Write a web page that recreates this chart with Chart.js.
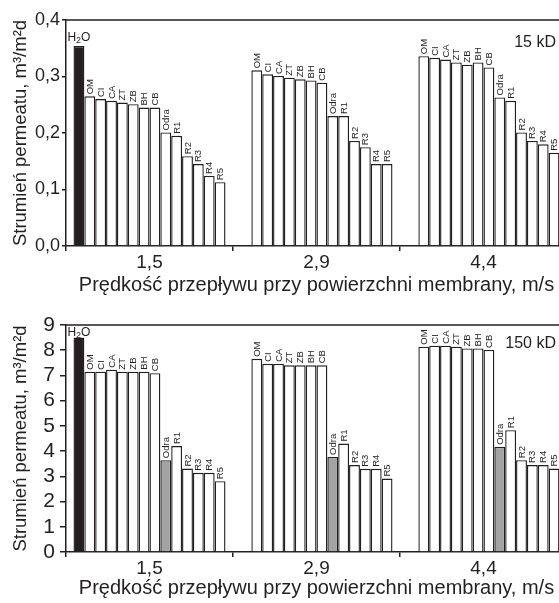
<!DOCTYPE html>
<html>
<head>
<meta charset="utf-8">
<script src="https://cdn.jsdelivr.net/npm/chart.js@4/dist/chart.umd.min.js"></script>
<style>
body { margin: 0; width: 559px; height: 603px; overflow: hidden; background: #fff; }
canvas { display: block; }
</style>
</head>
<body>
<canvas id="chart15" width="575" height="300"></canvas>
<canvas id="chart150" width="575" height="303"></canvas>
<script>
const groups = ['1,5', '2,9', '4,4'];
const series = ['H2O', 'OM', 'CI', 'CA', 'ZT', 'ZB', 'BH', 'CB', 'Odra', 'R1', 'R2', 'R3', 'R4', 'R5'];

// 15 kD membrane, m3/m2d (one row per series, one value per velocity)
const flux15 = [
    [0.354, null, null],
    [0.265, 0.311, 0.336],
    [0.260, 0.304, 0.333],
    [0.257, 0.301, 0.330],
    [0.254, 0.298, 0.325],
    [0.251, 0.295, 0.321],
    [0.245, 0.293, 0.325],
    [0.245, 0.289, 0.316],
    [0.201, 0.230, 0.263],
    [0.195, 0.230, 0.257],
    [0.159, 0.186, 0.201],
    [0.145, 0.175, 0.186],
    [0.124, 0.145, 0.180],
    [0.113, 0.145, 0.165]
];

// 150 kD membrane, m3/m2d
const flux150 = [
    [8.50, null, null],
    [7.15, 7.66, 8.14],
    [7.15, 7.46, 8.18],
    [7.23, 7.46, 8.18],
    [7.15, 7.40, 8.14],
    [7.15, 7.40, 8.07],
    [7.15, 7.40, 8.07],
    [7.09, 7.40, 8.01],
    [3.64, 3.77, 4.17],
    [4.20, 4.30, 4.83],
    [3.31, 3.45, 3.64],
    [3.14, 3.30, 3.45],
    [3.14, 3.30, 3.45],
    [2.81, 2.91, 3.31]
];

const yTicks15 = ['0,0', '0,1', '0,2', '0,3', '0,4'];
const yTicks150 = ['0', '1', '2', '3', '4', '5', '6', '7', '8', '9'];

const ink = '#231f20';
const font = '"Liberation Sans", Arial, sans-serif';

// labels over the bars, frame and membrane note
const barLabels = {
    id: 'barLabels',
    afterDatasetsDraw(chart, args, opts) {
        const ctx = chart.ctx;
        const a = chart.chartArea;
        ctx.save();
        ctx.fillStyle = ink;
        chart.data.datasets.forEach((ds, i) => {
            chart.getDatasetMeta(i).data.forEach((bar, j) => {
                if (ds.data[j] == null) return;
                if (ds.label === 'H2O') {
                    ctx.textBaseline = 'alphabetic';
                    ctx.textAlign = 'left';
                    ctx.font = '12px ' + font;
                    const wH = ctx.measureText('H').width, wO = ctx.measureText('O').width;
                    ctx.font = '9px ' + font;
                    const w2 = ctx.measureText('2').width;
                    let x = bar.x - (wH + w2 + wO) / 2;
                    const y = bar.y - opts.h2oGap;
                    ctx.font = '12px ' + font;
                    ctx.fillText('H', x, y);
                    ctx.font = '9px ' + font;
                    ctx.fillText('2', x + wH, y + 2);
                    ctx.font = '12px ' + font;
                    ctx.fillText('O', x + wH + w2, y);
                } else {
                    ctx.save();
                    ctx.translate(bar.x + 0.5, bar.y - 2);
                    ctx.rotate(-Math.PI / 2);
                    ctx.font = '9.5px ' + font;
                    ctx.textAlign = 'left';
                    ctx.textBaseline = 'middle';
                    ctx.fillText(ds.label, 0, 0);
                    ctx.restore();
                }
            });
        });
        ctx.strokeStyle = ink;
        ctx.lineWidth = 1.5;
        ctx.beginPath();
        ctx.moveTo(a.left, a.top);
        ctx.lineTo(a.right, a.top);
        ctx.lineTo(a.right, a.bottom);
        ctx.stroke();
        ctx.font = '16px ' + font;
        ctx.textAlign = 'right';
        ctx.textBaseline = 'alphabetic';
        ctx.fillText(opts.note, 556, a.top + opts.noteY);
        ctx.restore();
    }
};

function makeChart(id, rows, odraColor, yMax, yStep, yTicks, yFont, yTick, yPad, note, noteY, h2oGap, padTop, xHeight) {
    const datasets = series.map((name, i) => ({
        label: name,
        data: rows[i],
        backgroundColor: name === 'H2O' ? ink : (name === 'Odra' ? odraColor : '#ffffff'),
        borderColor: ink,
        borderWidth: 1.4,
        categoryPercentage: 0.91,
        barPercentage: 1.0
    }));

    return new Chart(document.getElementById(id), {
        type: 'bar',
        data: { labels: groups, datasets: datasets },
        options: {
            responsive: false,
            animation: false,
            layout: { padding: { top: padTop, right: 8, left: 0, bottom: 0 } },
            plugins: {
                legend: { display: false },
                tooltip: { enabled: false },
                barLabels: { note: note, noteY: noteY, h2oGap: h2oGap }
            },
            scales: {
                x: {
                    grid: { drawOnChartArea: false, drawTicks: true, tickLength: 5, color: ink, lineWidth: 1.5, offset: true },
                    border: { display: true, color: ink, width: 1.5 },
                    ticks: { color: ink, font: { family: font, size: 19 }, padding: 0 },
                    title: {
                        display: true,
                        text: 'Prędkość przepływu przy powierzchni membrany, m/s',
                        color: ink,
                        font: { family: font, size: 20 },
                        padding: { top: 0, bottom: 3 }
                    },
                    afterFit(s) {
                        s.height = xHeight;
                        s.paddingLeft = 0; s.paddingRight = 0;
                    }
                },
                y: {
                    min: 0,
                    max: yMax,
                    grid: { drawOnChartArea: false, drawTicks: true, tickLength: yTick, color: ink, lineWidth: 1.5 },
                    border: { display: true, color: ink, width: 1.5 },
                    ticks: {
                        stepSize: yStep,
                        autoSkip: false,
                        color: ink,
                        font: { family: font, size: yFont },
                        padding: yPad,
                        callback: (v, i) => yTicks[i]
                    },
                    title: {
                        display: true,
                        text: 'Strumień permeatu, m³/m²d',
                        color: ink,
                        font: { family: font, size: 18.5 },
                        padding: { top: 10, bottom: 0 }
                    },
                    afterFit(s) {
                        s.width = 66;
                        s.paddingTop = 0; s.paddingBottom = 0;
                    }
                }
            }
        },
        plugins: [barLabels]
    });
}

makeChart('chart15', flux15, '#ffffff', 0.4, 0.1, yTicks15, 18, 4, 2, '15 kD', 27, 5, 20, 54);
makeChart('chart150', flux150, '#a3a3a3', 9, 1, yTicks150, 21, 6, 5, '150 kD', 23, 2, 25, 51);
</script>
</body>
</html>
